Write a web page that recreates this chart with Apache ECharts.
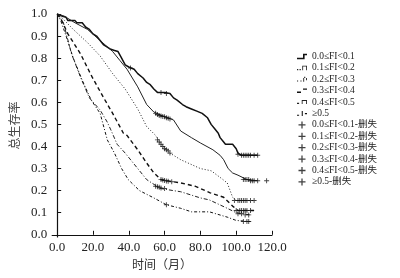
<!DOCTYPE html>
<html><head><meta charset="utf-8">
<script src="https://cdn.jsdelivr.net/npm/echarts@6/dist/echarts.min.js"></script>
<style>html,body{margin:0;padding:0;background:#fff}#c{width:400px;height:278px}</style>
</head><body><div id="c"></div>
<script>
var seriesNames = ['0.0≤FI<0.1','0.1≤FI<0.2','0.2≤FI<0.3','0.3≤FI<0.4','0.4≤FI<0.5','≥0.5'];
var censorSuffix = '-删失';
var xTicks = [0,20,40,60,80,100,120];
var yTicks = [0,0.1,0.2,0.3,0.4,0.5,0.6,0.7,0.8,0.9,1.0];

var curve1 = [[0,1],[3,0.99],[5,0.985],[6,0.97],[10,0.97],[11,0.96],[14,0.96],[16,0.94],[18,0.93],[20,0.91],[22,0.90],[24,0.88],[26,0.86],[28,0.85],[30,0.84],[32,0.835],[34,0.83],[36,0.80],[38,0.77],[40,0.76],[43,0.75],[45,0.73],[48,0.71],[50,0.69],[52,0.68],[54,0.66],[56,0.645],[60,0.645],[63,0.64],[65,0.62],[67,0.61],[70,0.59],[72,0.58],[75,0.57],[78,0.56],[81,0.55],[84,0.53],[86,0.50],[88,0.48],[90,0.46],[91,0.44],[93,0.42],[94,0.41],[98,0.41],[100,0.39],[101,0.37],[103,0.36],[112,0.36]];
var curve2 = [[0,1],[4,0.99],[10,0.96],[17,0.93],[24,0.88],[31,0.83],[35,0.79],[39,0.75],[45,0.67],[50,0.59],[54,0.556],[60,0.535],[65,0.52],[69,0.47],[75,0.44],[80,0.416],[87,0.385],[91,0.36],[93,0.34],[95.5,0.30],[98,0.28],[101,0.27],[106,0.25],[112,0.245]];
var curve3 = [[0,1],[3,0.98],[9,0.93],[17,0.87],[24,0.81],[31,0.73],[38,0.66],[45,0.57],[50,0.49],[55,0.45],[58,0.41],[63,0.37],[69,0.34],[80,0.30],[86,0.29],[91,0.26],[95,0.235],[98,0.17],[100,0.155],[110,0.155]];
var curve4 = [[0,1],[2,0.98],[6,0.91],[13,0.82],[19.5,0.715],[26,0.62],[31,0.55],[37,0.46],[39,0.45],[45,0.385],[50,0.325],[54,0.28],[58,0.25],[65,0.24],[69,0.235],[77,0.22],[85.5,0.19],[93,0.17],[98,0.13],[101,0.11],[110,0.11]];
var curve5 = [[0,1],[2,0.98],[3.5,0.96],[8,0.82],[13,0.715],[18,0.62],[24,0.565],[28,0.51],[30,0.475],[33.5,0.41],[38,0.37],[42,0.33],[50,0.25],[57.5,0.21],[65,0.20],[69,0.195],[80,0.167],[85,0.158],[95,0.12],[100,0.10],[108,0.09]];
var curve6 = [[0,1],[2,0.97],[5,0.90],[9,0.80],[14,0.70],[19,0.61],[24,0.55],[28,0.43],[32,0.37],[36,0.30],[39.7,0.25],[46,0.20],[54,0.167],[61,0.136],[69,0.12],[75,0.104],[85,0.104],[95,0.08],[100,0.065],[108,0.06]];
var censor1 = [[41,0.755],[58,0.645],[61,0.64],[101,0.365],[103,0.36],[104,0.36],[105,0.36],[106,0.36],[107,0.36],[108,0.36],[110,0.36],[112,0.36]];
var censor2 = [[55,0.55],[56,0.545],[57,0.54],[58,0.538],[59,0.536],[60,0.535],[61,0.53],[62,0.528],[63,0.525],[104,0.25],[105,0.25],[106,0.25],[107,0.25],[108,0.245],[109,0.245],[110,0.245],[112,0.245],[117,0.245]];
var censor3 = [[56,0.43],[57,0.42],[58,0.41],[59,0.40],[60,0.39],[61,0.385],[62,0.38],[63,0.37],[99,0.155],[101,0.155],[102,0.155],[103,0.155],[104,0.155],[105,0.155],[106,0.155],[108,0.155],[110,0.155]];
var censor4 = [[58,0.25],[59,0.248],[60,0.246],[61,0.244],[62,0.242],[64,0.24],[100,0.11],[102,0.11],[103,0.11],[104,0.11],[105,0.11],[106,0.11],[108,0.11]];
var censor5 = [[55,0.22],[56,0.218],[57,0.215],[58,0.212],[60,0.21],[101,0.095],[103,0.095],[105,0.09],[107,0.09]];
var censor6 = [[61,0.136],[104,0.06],[106,0.06],[107,0.06]];

var curves = [curve1,curve2,curve3,curve4,curve5,curve6];
var censors = [censor1,censor2,censor3,censor4,censor5,censor6];
var lineStyles = [
  {width:1.5,type:'solid',color:'#111'},
  {width:1,type:'solid',color:'#222'},
  {width:1,type:[1,2],color:'#222'},
  {width:1.4,type:[4,3],color:'#111'},
  {width:1,type:[4,2,1,2],color:'#222'},
  {width:1,type:[3,2,1,2],color:'#111'}
];
var plus = 'path://M-1,-0.18H1V0.18H-1Z M-0.18,-1H0.18V1H-0.18Z';
var legendIcons = [
  'path://M0,4H6V0H10V1.6H7.6V5.6H0Z',
  'path://M0,4.6H1.2V5.8H0Z M2.4,4.6H3.6V5.8H2.4Z M5,5.8V1.5H9.5V5.8H8.7V2.3H5.8V5.8Z',
  'path://M1,4.6H2V5.6H1Z M4,4.6H5V5.6H4Z M6.5,5.8V2.5H7.3V5.8Z M7.3,1.5H8.3V2.5H7.3Z M9,2.5H9.8V4.5H9Z',
  'path://M0,4.2H4V5.8H0Z M6,1.2H10V2.6H6Z',
  'path://M0,4.6H2V5.6H0Z M4.5,5.8V2H9.5V5.8H8.7V2.8H5.3V5.8Z',
  'path://M0,4.6H2V5.6H0Z M4.5,1H5.5V5.8H4.5Z M7.5,3H9.5V4H7.5Z'
];
var series = [];
curves.forEach(function(d,i){
  series.push({name:seriesNames[i],type:'line',data:d,showSymbol:false,symbol:'none',
    lineStyle:lineStyles[i],itemStyle:{color:lineStyles[i].color},z:2,silent:true});
});
censors.forEach(function(d,i){
  series.push({name:seriesNames[i]+censorSuffix,type:'scatter',data:d,symbol:plus,symbolSize:5,
    itemStyle:{color:'#111'},z:3,silent:true});
});
var legendData = seriesNames.map(function(n,i){return {name:n,icon:legendIcons[i]};})
  .concat(seriesNames.map(function(n){return {name:n+censorSuffix,icon:plus};}));
var chart = echarts.init(document.getElementById('c'),null,{renderer:'canvas'});
chart.setOption({
  animation:false,
  backgroundColor:'#fff',
  grid:{left:52,right:128,top:14,bottom:41,containLabel:false},
  legend:{orient:'vertical',left:297,top:51,itemWidth:10,itemHeight:7,itemGap:0.4,padding:0,
    textStyle:{fontSize:9.5,lineHeight:11,fontFamily:'Liberation Serif, Noto Sans CJK SC',color:'#222'},
    data:legendData,selectedMode:false},
  xAxis:{type:'value',min:-2.8,max:120,
    name:'时间（月）',nameLocation:'middle',nameGap:20,
    nameTextStyle:{fontSize:12,fontFamily:'Noto Sans CJK SC',color:'#333'},
    axisLine:{lineStyle:{color:'#111',width:1.2}},
    axisTick:{inside:true,length:4,customValues:xTicks,lineStyle:{color:'#111'}},
    axisLabel:{customValues:xTicks,fontSize:13,fontFamily:'Liberation Serif',color:'#222',margin:4,
      formatter:function(v){return v.toFixed(1);}},
    splitLine:{show:false}},
  yAxis:{type:'value',min:-0.01,max:1.0,
    name:'总生存率',nameLocation:'middle',nameGap:23,nameRotate:90,
    nameTextStyle:{fontSize:12,fontFamily:'Noto Sans CJK SC',color:'#444'},
    axisLine:{lineStyle:{color:'#111',width:1.2}},
    axisTick:{inside:true,length:4,customValues:yTicks,lineStyle:{color:'#111'}},
    axisLabel:{customValues:yTicks,fontSize:13,fontFamily:'Liberation Serif',color:'#222',margin:5,
      formatter:function(v){return v.toFixed(1);}},
    splitLine:{show:false}},
  series:series
});
</script></body></html>
